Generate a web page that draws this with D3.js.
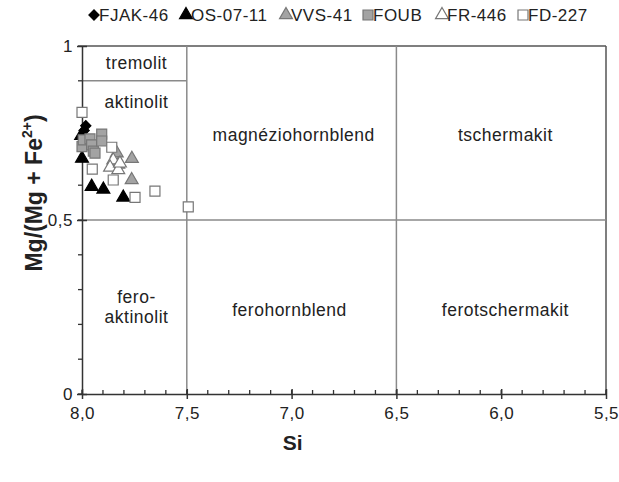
<!DOCTYPE html>
<html>
<head>
  <title>Amphibole classification - Si vs Mg/(Mg+Fe2+)</title>
  <style>
    body { margin: 0; background: #fff; }
    svg text { font-family: "Liberation Sans", Arial, sans-serif; fill: #222; }
  </style>
  <script src="https://d3js.org/d3.v7.min.js"></script>
</head>
<body>
  <div id="chart"></div>
  <script>
    // series values (Si, Mg/(Mg+Fe2+))
    var fjak46Si = [7.982, 7.990];
    var fjak46Mg = [0.771, 0.757];
    var os0711Si = [8.004, 8.000, 7.954, 7.898, 7.803];
    var os0711Mg = [0.742, 0.677, 0.596, 0.588, 0.565];
    var vvs41Si = [7.834, 7.762, 7.827, 7.763];
    var vvs41Mg = [0.692, 0.676, 0.660, 0.615];
    var foubSi = [8.000, 7.994, 7.962, 7.954, 7.946, 7.906, 7.906, 7.938];
    var foubMg = [0.711, 0.730, 0.733, 0.716, 0.698, 0.747, 0.727, 0.692];
    var fr446Si = [7.851, 7.866, 7.827, 7.819];
    var fr446Mg = [0.672, 0.651, 0.644, 0.663];
    var fd227Si = [8.000, 7.858, 7.951, 7.851, 7.747, 7.652, 7.493];
    var fd227Mg = [0.809, 0.709, 0.646, 0.615, 0.565, 0.583, 0.538];

    var seriesNames = ["FJAK-46", "OS-07-11", "VVS-41", "FOUB", "FR-446", "FD-227"];
    var xTicks = [8.0, 7.5, 7.0, 6.5, 6.0, 5.5];
    var yTicks = [0, 0.5, 1];

    // field names of the classification diagram
    var fieldNames = ["tremolit", "aktinolit", "magnéziohornblend", "tschermakit",
                      "fero-", "aktinolit", "ferohornblend", "ferotschermakit"];
    var fieldSi = [7.74, 7.74, 6.99, 5.98, 7.74, 7.74, 7.01, 5.98];
    var fieldMg = [0.95, 0.84, 0.745, 0.745, 0.28, 0.22, 0.24, 0.24];

    var series = [
      { name: seriesNames[0], si: fjak46Si, mg: fjak46Mg, shape: "diamond", fill: "#000", stroke: "#000" },
      { name: seriesNames[1], si: os0711Si, mg: os0711Mg, shape: "triangle", fill: "#000", stroke: "#000" },
      { name: seriesNames[2], si: vvs41Si, mg: vvs41Mg, shape: "triangle", fill: "#a3a3a3", stroke: "#777" },
      { name: seriesNames[3], si: foubSi, mg: foubMg, shape: "square", fill: "#a3a3a3", stroke: "#777" },
      { name: seriesNames[4], si: fr446Si, mg: fr446Mg, shape: "triangle", fill: "#fff", stroke: "#777" },
      { name: seriesNames[5], si: fd227Si, mg: fd227Mg, shape: "square", fill: "#fff", stroke: "#777" }
    ];

    var width = 619, height = 482;
    var margin = { top: 46, right: 13, bottom: 88, left: 82 };
    var w = width - margin.left - margin.right;
    var h = height - margin.top - margin.bottom;

    var svg = d3.select("#chart").append("svg")
      .attr("width", width)
      .attr("height", height);

    var g = svg.append("g")
      .attr("transform", "translate(" + margin.left + "," + margin.top + ")");

    var x = d3.scaleLinear().domain([8, 5.5]).range([0, w]);
    var y = d3.scaleLinear().domain([0, 1]).range([h, 0]);

    // frame and field boundaries
    g.append("line").attr("x1", 0).attr("x2", w).attr("y1", 0).attr("y2", 0)
      .attr("stroke", "#555").attr("stroke-width", 1.5);
    g.append("line").attr("x1", w).attr("x2", w).attr("y1", 0).attr("y2", h)
      .attr("stroke", "#555").attr("stroke-width", 1.5);
    [7.5, 6.5].forEach(function(v) {
      g.append("line").attr("x1", x(v)).attr("x2", x(v)).attr("y1", 0).attr("y2", h)
        .attr("stroke", "#8a8a8a").attr("stroke-width", 1.5);
    });
    g.append("line").attr("x1", 0).attr("x2", w).attr("y1", y(0.5)).attr("y2", y(0.5))
      .attr("stroke", "#8a8a8a").attr("stroke-width", 1.5);
    g.append("line").attr("x1", 0).attr("x2", x(7.5)).attr("y1", y(0.9)).attr("y2", y(0.9))
      .attr("stroke", "#8a8a8a").attr("stroke-width", 1.5);

    // minor ticks
    var xMinor = d3.range(8, 5.49, -0.1);
    g.selectAll(".xminor").data(xMinor).enter().append("line")
      .attr("x1", function(d) { return x(d); }).attr("x2", function(d) { return x(d); })
      .attr("y1", h).attr("y2", h - 4)
      .attr("stroke", "#333").attr("stroke-width", 1.3);
    var yMinor = d3.range(0, 1.01, 0.1);
    g.selectAll(".yminor").data(yMinor).enter().append("line")
      .attr("x1", 0).attr("x2", -4)
      .attr("y1", function(d) { return y(d); }).attr("y2", function(d) { return y(d); })
      .attr("stroke", "#333").attr("stroke-width", 1.3);

    // axes
    var xAxis = d3.axisBottom(x).tickValues(xTicks).tickSizeInner(5).tickSizeOuter(0)
      .tickFormat(function(d) { return d3.format(".1f")(d).replace(".", ","); });
    var xg = g.append("g").attr("transform", "translate(0," + h + ")").call(xAxis);
    xg.selectAll(".tick line").attr("y1", -5).attr("stroke", "#333").attr("stroke-width", 1.5);
    xg.select(".domain").attr("stroke", "#333").attr("stroke-width", 1.5);
    xg.selectAll("text").attr("font-size", 17).attr("letter-spacing", 0.5)
      .attr("y", 13).attr("fill", "#333");

    var yAxis = d3.axisLeft(y).tickValues(yTicks).tickSizeInner(5).tickSizeOuter(0)
      .tickFormat(function(d) { return String(d).replace(".", ","); });
    var yg = g.append("g").call(yAxis);
    yg.selectAll(".tick line").attr("x1", 5).attr("stroke", "#333").attr("stroke-width", 1.5);
    yg.select(".domain").attr("stroke", "#333").attr("stroke-width", 1.5);
    yg.selectAll("text").attr("font-size", 17).attr("letter-spacing", 0.5)
      .attr("x", -9).attr("fill", "#333");

    // field labels
    g.selectAll(".field").data(fieldNames).enter().append("text")
      .attr("x", function(d, i) { return x(fieldSi[i]); })
      .attr("y", function(d, i) { return y(fieldMg[i]); })
      .attr("text-anchor", "middle")
      .attr("dominant-baseline", "central")
      .attr("font-size", 17.5)
      .attr("letter-spacing", 0.5)
      .text(function(d) { return d; });

    // markers
    function symbolPath(shape) {
      if (shape === "triangle") return d3.symbol().type(d3.symbolTriangle).size(72)();
      if (shape === "diamond") return d3.symbol().type(d3.symbolSquare).size(52)();
      return d3.symbol().type(d3.symbolSquare).size(100)();
    }
    function symbolRotate(shape) { return shape === "diamond" ? " rotate(45)" : ""; }

    series.forEach(function(s) {
      g.selectAll(null).data(s.si).enter().append("path")
        .attr("d", symbolPath(s.shape))
        .attr("transform", function(d, i) {
          return "translate(" + x(d) + "," + y(s.mg[i]) + ")" + symbolRotate(s.shape);
        })
        .attr("fill", s.fill)
        .attr("stroke", s.stroke)
        .attr("stroke-width", 1.2);
    });

    // axis titles
    svg.append("text")
      .attr("x", margin.left + x(7.0) + 1).attr("y", 450)
      .attr("text-anchor", "middle")
      .attr("font-size", 21).attr("font-weight", "bold")
      .text("Si");

    var yt = svg.append("text")
      .attr("transform", "translate(42,193) rotate(-90)")
      .attr("text-anchor", "middle")
      .attr("font-size", 23).attr("font-weight", "bold");
    yt.append("tspan").text("Mg/(Mg + Fe");
    yt.append("tspan").attr("font-size", 14).attr("dy", -10).text("2+");
    yt.append("tspan").attr("dy", 10).text(")");

    // legend
    var legendX = [94, 186, 286, 368, 442, 523];
    var legend = svg.selectAll(".legend").data(series).enter().append("g")
      .attr("transform", function(d, i) { return "translate(" + legendX[i] + ",15)"; });
    legend.append("path")
      .attr("d", function(d) { return symbolPath(d.shape); })
      .attr("transform", function(d) { return symbolRotate(d.shape); })
      .attr("fill", function(d) { return d.fill; })
      .attr("stroke", function(d) { return d.stroke; })
      .attr("stroke-width", 1.2);
    legend.append("text")
      .attr("x", 5)
      .attr("dominant-baseline", "central")
      .attr("font-size", 17)
      .attr("letter-spacing", 0.5)
      .text(function(d) { return d.name; });
  </script>
</body>
</html>
